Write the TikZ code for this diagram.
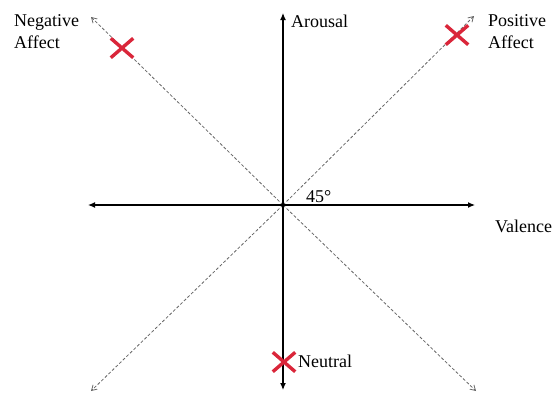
\documentclass[tikz,border=0pt]{standalone}
\usepackage{fontspec}
\setmainfont{Liberation Serif}
\newfontfamily\timesfont{Liberation Serif}
\usetikzlibrary{arrows.meta, shapes.misc}
\definecolor{markred}{RGB}{218,38,58}

\begin{document}
\begin{tikzpicture}[
    x=1pt, y=-1pt,
    axis/.style={draw, line width=1.2pt, -{Latex[length=7pt, width=6pt]}},
    diag/.style={draw, gray!80!black, line width=0.8pt, dash pattern=on 3pt off 2pt, -{Straight Barb[length=5pt, width=6pt]}},
    mark x/.style={cross out, draw=markred, line width=3.4pt, minimum width=19pt, minimum height=16pt, inner sep=0pt},
    lbl/.style={inner sep=0pt, font=\timesfont\fontsize{18}{22}\selectfont, align=left}
  ]
  \useasboundingbox (0,0) rectangle (554,392);
  % centre and axis ends
  \coordinate (O) at (283,205);
  \coordinate (top) at (283,13);
  \coordinate (bot) at (283,390);
  \coordinate (lft) at (88,205);
  \coordinate (rgt) at (475,205);
  \coordinate (nw) at (91,17);
  \coordinate (ne) at (474,16);
  \coordinate (sw) at (91,391);
  \coordinate (se) at (476,391);
  % dashed diagonals
  \draw[diag] (O) -- (nw);
  \draw[diag] (O) -- (ne);
  \draw[diag] (O) -- (sw);
  \draw[diag] (O) -- (se);
  % axes
  \draw[axis] (O) -- (top);
  \draw[axis] (O) -- (bot);
  \draw[axis] (O) -- (lft);
  \draw[axis] (O) -- (rgt);
  % labels
  \node[lbl, anchor=north west] (neg) at (14,14) {Negative\\Affect};
  \node[lbl, anchor=north west] (pos) at (488,14) {Positive\\Affect};
  \node[lbl, anchor=base west] (arousal) at (291,27) {Arousal};
  \node[lbl, anchor=base west] (valence) at (495,232) {Valence};
  \node[lbl, anchor=base west] (angle) at (306,202) {45\textdegree};
  \node[lbl, anchor=base west] (neutral) at (298,367) {Neutral};
  % crosses
  \node[mark x] (xneg) at (122,48) {};
  \node[mark x] (xpos) at (457,35) {};
  \node[mark x] (xneu) at (284,362) {};
\end{tikzpicture}
\end{document}
